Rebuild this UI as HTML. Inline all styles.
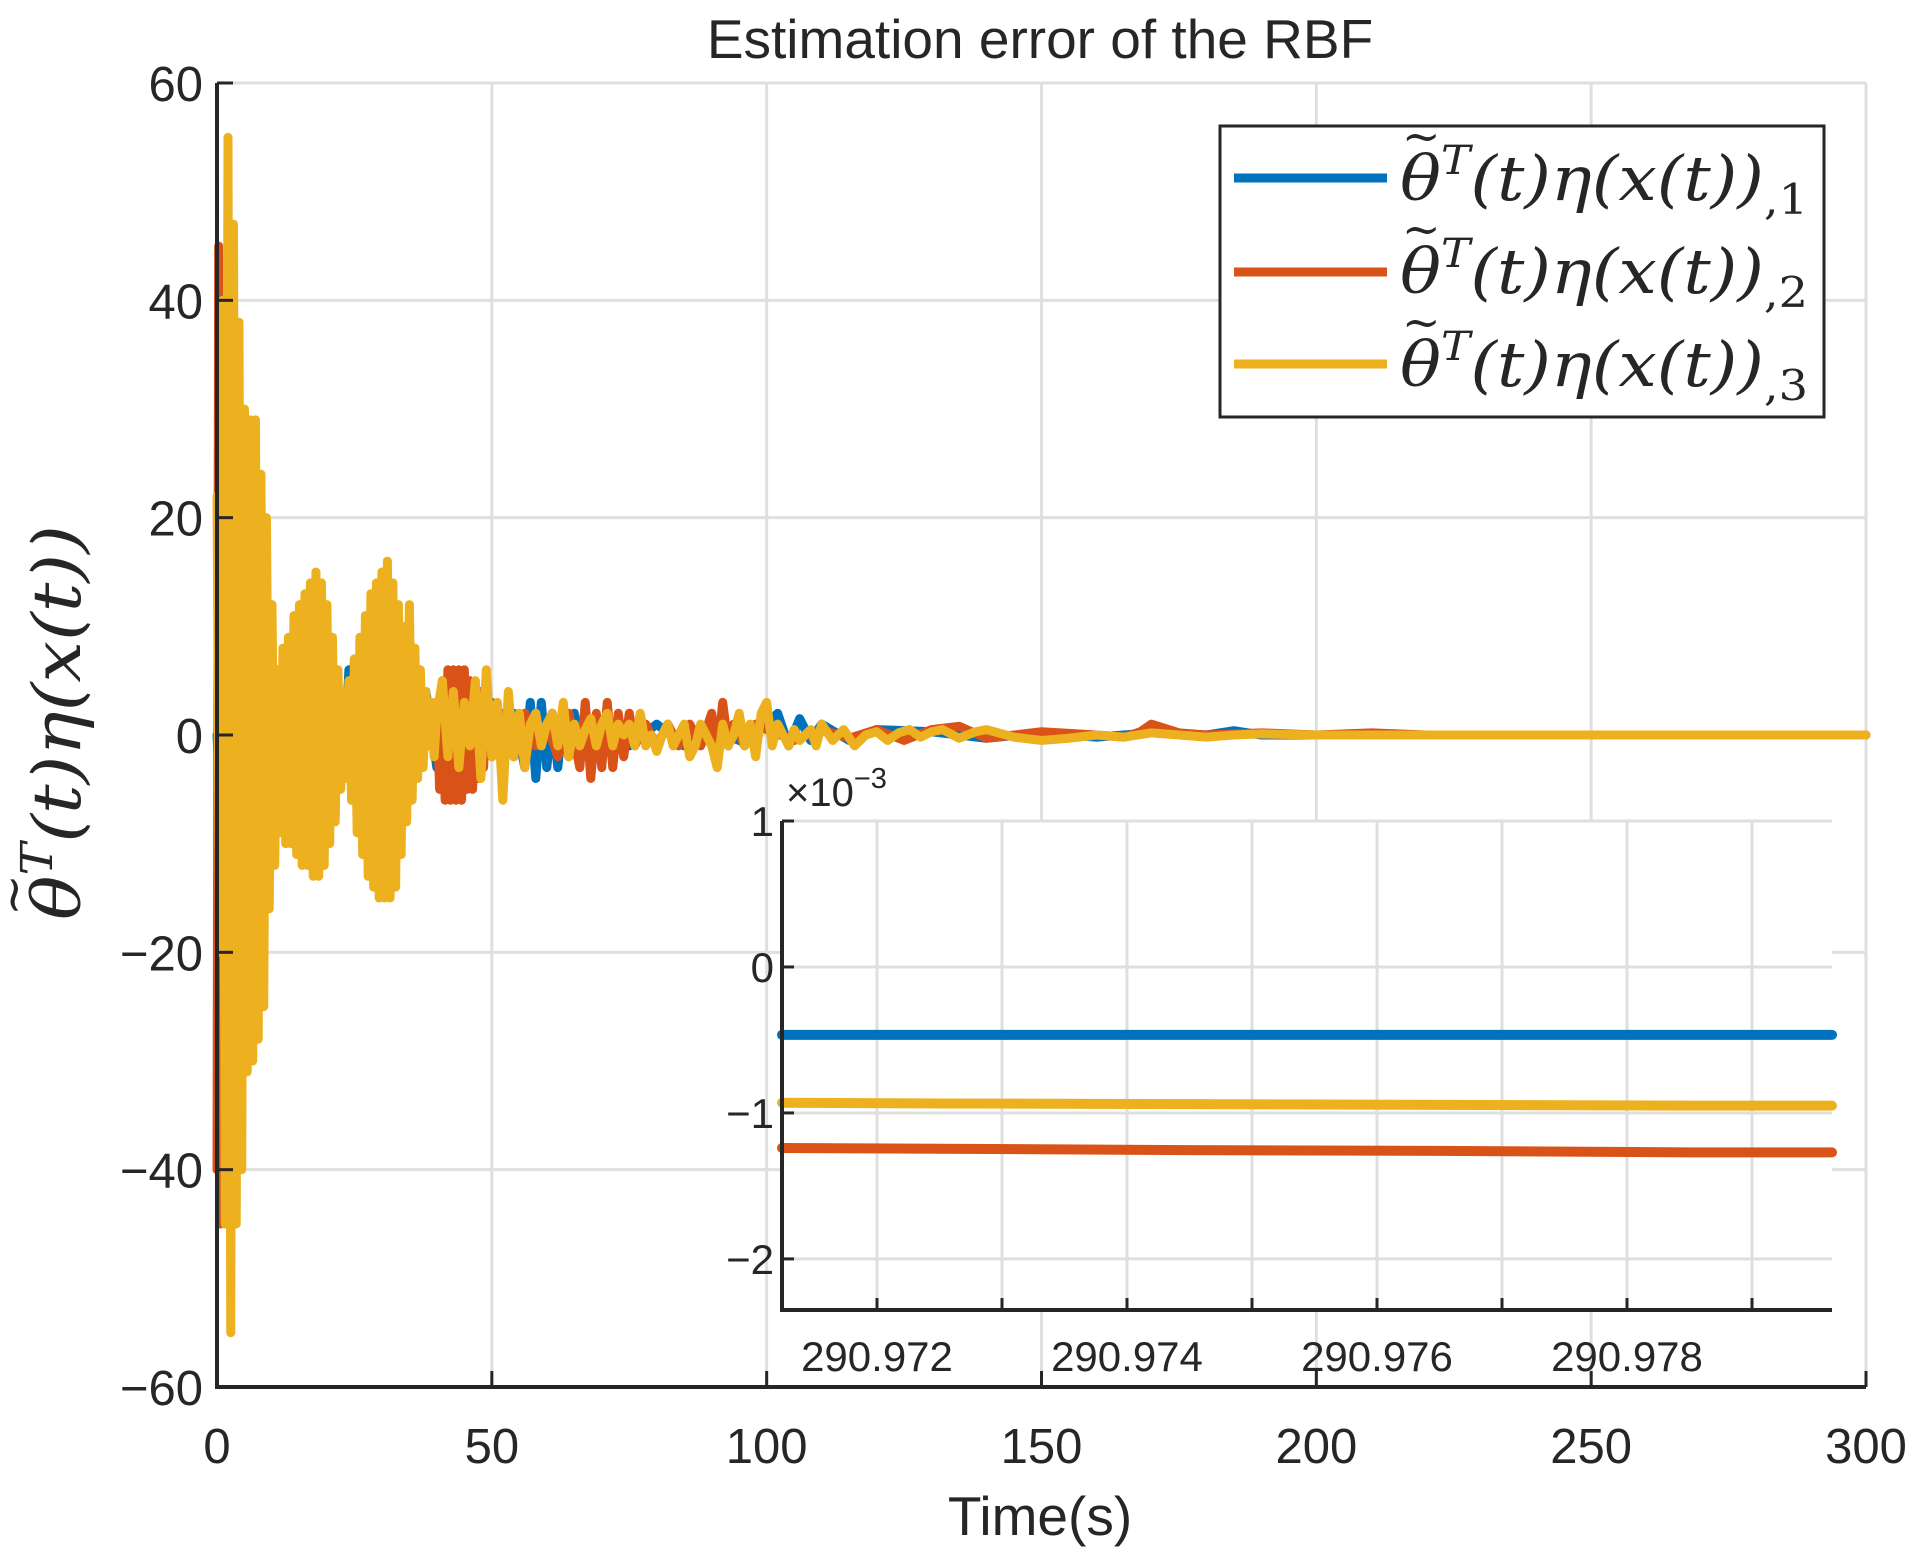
<!DOCTYPE html>
<html><head><meta charset="utf-8">
<style>
html,body{margin:0;padding:0;background:#fff;}
svg{display:block;}
text{font-family:"Liberation Sans",sans-serif;fill:#262626;}
.m{font-family:"DejaVu Serif","Liberation Serif",serif;font-style:italic;}
</style></head>
<body>
<svg id="chart" width="1917" height="1553" viewBox="0 0 1917 1553" xmlns="http://www.w3.org/2000/svg">
<rect width="1917" height="1553" fill="#fff"/>
<g id="main-grid"></g>
<g id="main-series"></g>
<g id="main-axes"></g>
<text x="1040" y="58" font-size="55" text-anchor="middle">Estimation error of the RBF</text>
<text x="1040" y="1535" font-size="55" text-anchor="middle">Time(s)</text>
<g transform="translate(80,920) rotate(-90)">
<text class="m" x="0" y="0" font-size="66" textLength="395" lengthAdjust="spacingAndGlyphs">θ<tspan font-size="44" dy="-28">T</tspan><tspan dy="28">(t)η(x(t))</tspan></text>
<text class="m" x="4" y="-50" font-size="50" font-style="normal">~</text>
</g>
<g id="inset"></g>
<g>
<rect x="1220" y="126" width="604" height="291" fill="#fff" stroke="#262626" stroke-width="3"/>
<g>
<line x1="1234" y1="178" x2="1387" y2="178" stroke="#0072BD" stroke-width="9"/>
<text class="m" x="1400" y="200" font-size="62" textLength="408" lengthAdjust="spacingAndGlyphs">θ<tspan font-size="40" dy="-26">T</tspan><tspan dy="26">(t)η(x(t))</tspan><tspan font-size="42" font-style="normal" dy="14">,1</tspan></text>
<text class="m" x="1402" y="152" font-size="46" font-style="normal">~</text>
</g>
<g>
<line x1="1234" y1="272" x2="1387" y2="272" stroke="#D95319" stroke-width="9"/>
<text class="m" x="1400" y="293" font-size="62" textLength="408" lengthAdjust="spacingAndGlyphs">θ<tspan font-size="40" dy="-26">T</tspan><tspan dy="26">(t)η(x(t))</tspan><tspan font-size="42" font-style="normal" dy="14">,2</tspan></text>
<text class="m" x="1402" y="245" font-size="46" font-style="normal">~</text>
</g>
<g>
<line x1="1234" y1="364" x2="1387" y2="364" stroke="#EDB120" stroke-width="9"/>
<text class="m" x="1400" y="386" font-size="62" textLength="408" lengthAdjust="spacingAndGlyphs">θ<tspan font-size="40" dy="-26">T</tspan><tspan dy="26">(t)η(x(t))</tspan><tspan font-size="42" font-style="normal" dy="14">,3</tspan></text>
<text class="m" x="1402" y="338" font-size="46" font-style="normal">~</text>
</g>
</g>
</svg>
<script>
// ---- main chart data ----
const xTicks = [0,50,100,150,200,250,300];
const yTicks = [-60,-40,-20,0,20,40,60];
const tY = [0,0.5,1,1.5,2,2.5,3,3.5,4,4.5,5,5.5,6,6.5,7,7.5,8,8.5,9,9.5,10,10.5,11,11.5,12,12.5,13,13.5,14,14.5,15,15.5,16,16.5,17,17.5,18,18.5,19,19.5,20,20.5,21,21.5,22,22.5,23,23.5,24,24.5,25,25.5,26,26.5,27,27.5,28,28.5,29,29.5,30,30.5,31,31.5,32,32.5,33,33.5,34,34.5,35,35.5,36,36.5,37,37.5,38,38.5,39,39.5,40,41,42,43,44,45,46,47,48,49,50,51,52,53,54,55,56,57,58,59,60,61,62,63,64,65,66,67,68,69,70,71,72,73,74,75,76,77,78,79,80,81,82,83,84,85,86,87,88,89,90,91,92,93,94,95,96,97,98,99,100,101,102,103,104,105,106,107,108,109,110,112,114,116,118,120,122,124,126,128,130,132,135,138,140,145,150,155,160,165,170,175,180,185,190,200,300];
const vY = [22,-20,40,-45,55,-55,47,-45,38,-40,30,-31,29,-30,29,-28,24,-25,20,-16,12,-12,6,-9,8,-10,9,-10,11,-11,12,-12,13,-12,14,-13,15,-13,14,-12,12,-10,9,-8,6,-5,4,-4,5,-6,7,-9,9,-11,11,-13,13,-14,14,-15,15,-15,16,-15,14,-14,12,-11,10,-8,12,-6,8,-4,6,-3,4,-1,3,-2,2,5,-2,4,-3,3,-1,5,-4,6,-2,3,-6,4,-2,2,-3,1,2,-1,1,2,-1,3,-2,1,-1,0.5,1.5,-1,1,2,-1,1,0,1,-1,2,-1,0,-1.5,0,1,-1,0,1,-2,-1,1,0,-1,-3,1,-1,0,2,-1,1,-2,2,3,-1,1,0,-1,0.5,-0.5,0,0.5,-1,1,-0.5,0.5,-1,0,0.3,-0.5,0.2,0.5,-0.2,0.3,0.5,-0.3,0.3,0.5,-0.2,-0.5,-0.3,0,-0.2,0.2,0,-0.2,0,0.1,0,0];
const tR = [0,0.3,0.6,1,1.4,2,3,4,5,6,7,7.6,8,9,10,11,12,13,14,15,20,25,30,33,40,40.5,41,41.5,42,42.5,43,43.5,44,44.5,45,45.5,46,46.5,47,47.5,48,48.5,49,50,52,54,56,58,60,62,64,66,67,68,69,70,71,72,73,74,75,76,78,80,82,84,86,88,90,91,92,93,94,96,98,100,105,110,115,120,125,130,135,140,150,160,165,168,170,175,180,190,200,210,220,300];
const vR = [-40,45,-45,30,-30,20,-20,15,-15,10,-10,21,-9,8,-8,6,-6,5,-9,4,-3,3,-3,2,3,-5,5,-6,6,-6,6,-6,6,-6,6,-5,5,-5,4,-4,4,-3,3,-2,2,-2,2,-1,1,-2,2,-3,3,-4,2,-3,3,-3,2,-2,2,-1,1,-1,1,-1,1,-1,2,-2,3,-1,1,-1,1,0.5,-0.5,0.5,-0.3,0.5,-0.5,0.5,0.8,-0.3,0.3,0,-0.2,0.3,1,0.2,0,0.2,0,0.2,0,0];
const tB = [0,2,5,10,15,20,22,23,24,24.5,25,25.5,26,26.5,27,27.5,28,28.5,29,29.5,30,30.5,31,31.5,32,32.5,33,33.5,34,36,38,40,42,44,46,48,50,52,54,56,57,58,59,60,61,62,63,64,65,66,68,70,72,75,80,85,90,95,100,102,104,106,108,110,115,120,130,140,150,160,170,180,185,190,200,300];
const vB = [0,-20,10,-5,3,-2,3,-4,6,-6,7,-7,7,-8,7,-9,7,-8,7,-7,8,-7,8,-6,8,-5,8,-4,3,-2,4,-3,3,-3,4,-2,3,-3,2,-3,3,-4,3,-3,2,-3,2,-2,2,-1,1,-1,1,-1,1,-1,0.5,-0.5,1,2,-1,1.5,-0.5,1,-0.5,0.5,0.3,-0.3,0.2,-0.2,0.2,0,0.4,0,0,0];

// ---- inset data ----
const insetXTicks = [290.972,290.974,290.976,290.978];
const insetXMinor = [290.973,290.975,290.977,290.979];
const insetYTicks = [-2,-1,0,1];
const insetT = [290.97124,290.9725,290.9745,290.9765,290.9785,290.97964];
const insetB = [-0.465,-0.465,-0.465,-0.465,-0.465,-0.465];
const insetR = [-1.24,-1.245,-1.255,-1.26,-1.27,-1.27];
const insetY = [-0.93,-0.935,-0.94,-0.945,-0.95,-0.95];

const NS='http://www.w3.org/2000/svg';
function mk(tag, attrs, parent){const e=document.createElementNS(NS,tag);for(const k in attrs)e.setAttribute(k,attrs[k]);parent.appendChild(e);return e;}
const L=217,R=1866,T=83,B=1387;
const sx=v=>L+(v-0)/(300-0)*(R-L);
const sy=v=>B-(v+60)/120*(B-T);
const grid=document.getElementById('main-grid'), ser=document.getElementById('main-series'), ax=document.getElementById('main-axes');
xTicks.forEach(v=>{
  const g=mk('line',{x1:sx(v),x2:sx(v),y1:T,y2:B,stroke:'#dfdfdf','stroke-width':3},grid);
  
  
  const tk=mk('line',{x1:sx(v),x2:sx(v),y1:B,y2:B-16,stroke:'#262626','stroke-width':3},ax);
  
  
  const t=mk('text',{x:sx(v),y:1463,'font-size':49,'text-anchor':'middle'},ax);t.textContent=v;
  
  
});
yTicks.forEach(v=>{
  const g=mk('line',{x1:L,x2:R,y1:sy(v),y2:sy(v),stroke:'#dfdfdf','stroke-width':3},grid);
  
  
  const tk=mk('line',{x1:L,x2:L+16,y1:sy(v),y2:sy(v),stroke:'#262626','stroke-width':3},ax);
  
  
  const t=mk('text',{x:203,y:sy(v)+18,'font-size':49,'text-anchor':'end'},ax);t.textContent=(v<0?'\u2212'+(-v):v);
  
  
});
mk('polyline',{points:`${L},${T} ${L},${B} ${R},${B}`,fill:'none',stroke:'#262626','stroke-width':4},ax);
function series(ts,vs,color,name,parent,fx,fy,w){
  const p=mk('polyline',{points:ts.map((t,i)=>fx(t)+','+fy(vs[i])).join(' '),fill:'none',stroke:color,'stroke-width':w,'stroke-linejoin':'round','stroke-linecap':'round'},parent);
  
  
}
series(tB,vB,'#0072BD','series-1-line',ser,sx,sy,9);
series(tR,vR,'#D95319','series-2-line',ser,sx,sy,9);
series(tY,vY,'#EDB120','series-3-line',ser,sx,sy,9);

// inset
const IL=782,IR=1832,IT=821,IB=1310;
const ix=v=>IL+(v-290.97124)/(290.97964-290.97124)*(IR-IL);
const iy=v=>IB-(v+2.35)/3.35*(IB-IT);
const ins=document.getElementById('inset');
mk('rect',{x:IL,y:IT,width:IR-IL,height:IB-IT,fill:'#fff'},ins);
insetXTicks.concat(insetXMinor).forEach(v=>{
  const g=mk('line',{x1:ix(v),x2:ix(v),y1:IT,y2:IB,stroke:'#dfdfdf','stroke-width':3},ins);
  
  
  const tk=mk('line',{x1:ix(v),x2:ix(v),y1:IB,y2:IB-12,stroke:'#262626','stroke-width':3},ins);
  
  
});
insetXTicks.forEach(v=>{
  const t=mk('text',{x:ix(v),y:1371,'font-size':42,'text-anchor':'middle'},ins);t.textContent=v.toFixed(3);
  
  
});
insetYTicks.forEach(v=>{
  const g=mk('line',{x1:IL,x2:IR,y1:iy(v),y2:iy(v),stroke:'#dfdfdf','stroke-width':3},ins);
  
  
  const tk=mk('line',{x1:IL,x2:IL+12,y1:iy(v),y2:iy(v),stroke:'#262626','stroke-width':3},ins);
  
  
  const t=mk('text',{x:774,y:iy(v)+15,'font-size':42,'text-anchor':'end'},ins);t.textContent=(v<0?'\u2212'+(-v):v);
  
  
});
series(insetT,insetB,'#0072BD','inset-series-1',ins,ix,iy,10);
series(insetT,insetR,'#D95319','inset-series-2',ins,ix,iy,10);
series(insetT,insetY,'#EDB120','inset-series-3',ins,ix,iy,10);
mk('polyline',{points:`${IL},${IT} ${IL},${IB} ${IR},${IB}`,fill:'none',stroke:'#262626','stroke-width':4},ins);
const ex=mk('text',{x:786,y:806,'font-size':40},ins);
ex.innerHTML='×10<tspan font-size="29" dy="-18">−3</tspan>';


</script>
</body></html>
